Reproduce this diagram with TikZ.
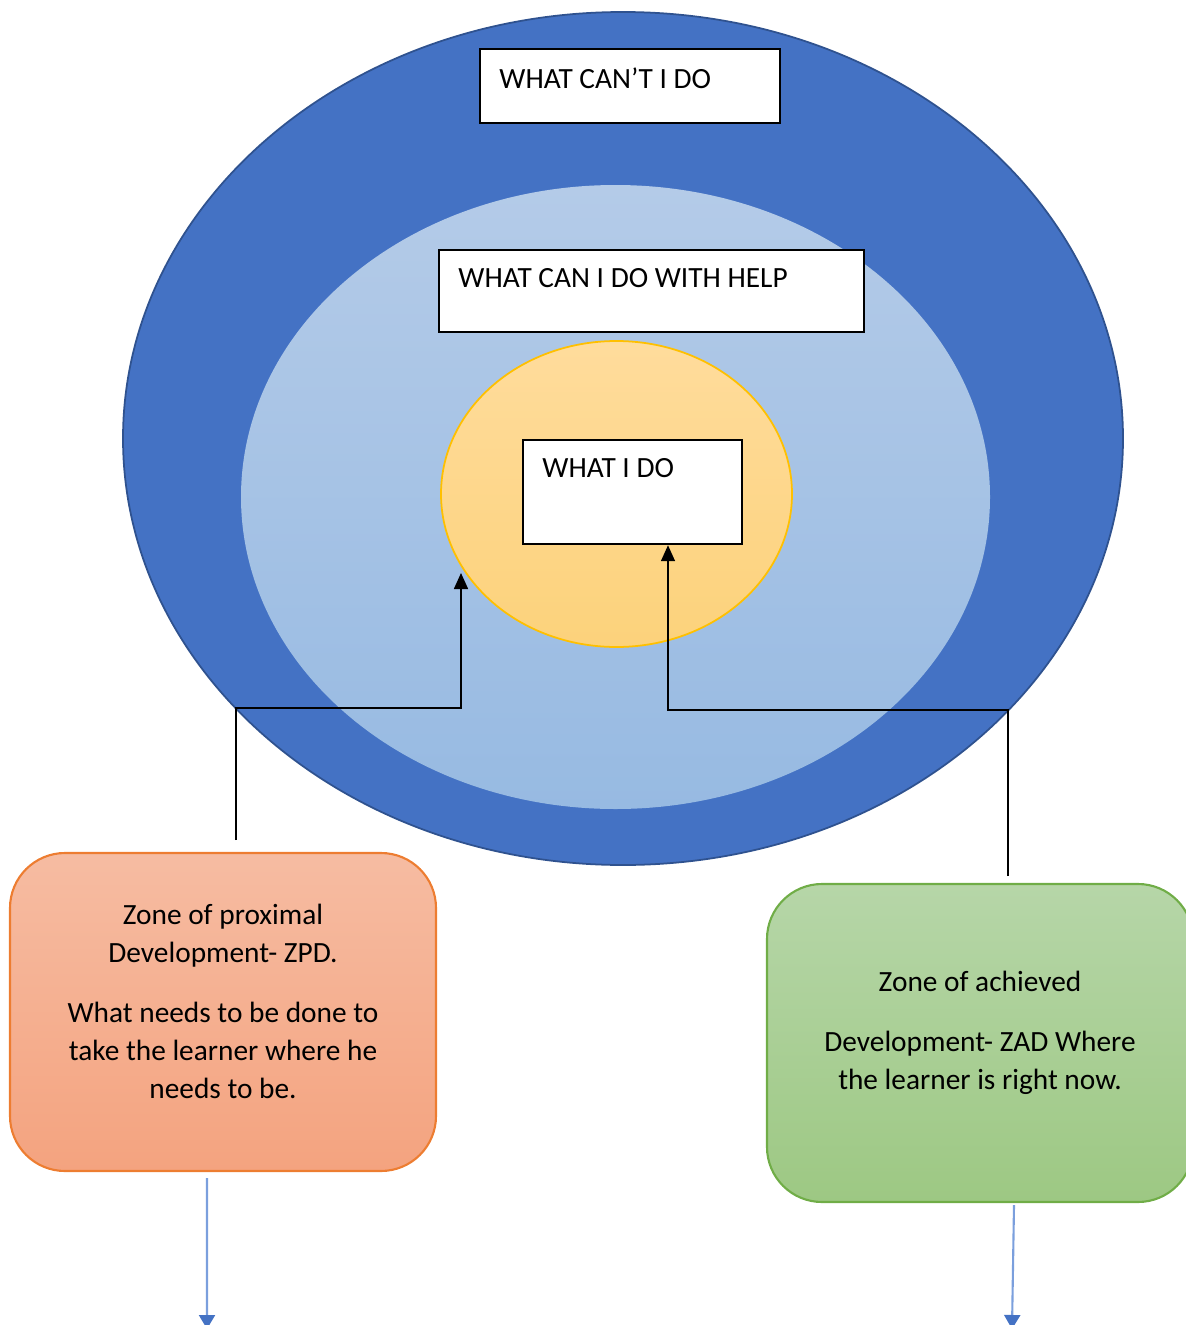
\documentclass[tikz,border=0pt]{standalone}
\usepackage{fontspec}
\setmainfont{Carlito}
\usetikzlibrary{positioning, shapes.geometric, arrows.meta}
\usetikzlibrary{calc}
\definecolor{outerblue}{HTML}{4472C4}
\definecolor{outeredge}{HTML}{2F528F}
\definecolor{lineblue}{HTML}{7B9FDD}
\tikzstyle{zone} = [ellipse, inner sep=0pt]
\tikzstyle{question} = [rectangle, draw=black, line width=0.7pt, fill=white]
\tikzstyle{qtext} = [anchor=north west, inner xsep=0.2cm, inner ysep=0.19cm]
\tikzstyle{note} = [rectangle, rounded corners=0.55cm, line width=0.6pt, minimum width=4.26cm, minimum height=3.18cm, inner xsep=0.1cm, text width=3.95cm, align=center, execute at begin node={\spaceskip=\fontdimen2\font\xspaceskip=\fontdimen2\font\relax}]
\tikzstyle{arrow} = [line width=0.45pt, -{Triangle[width=0.14cm,length=0.16cm]}]
\tikzstyle{down} = [line width=0.6pt, draw=lineblue, -{Triangle[width=0.16cm,length=0.14cm,color=outerblue]}]
\tikzstyle{every node}=[font=\fontsize{8.35}{10.8}\selectfont]

\begin{document}
\begin{tikzpicture}
		\useasboundingbox (0,0) rectangle (11.85,-13.25);
		%三个区域
		\node (cant zone) [zone, minimum width=10cm, minimum height=8.53cm, fill=outerblue, draw=outeredge, line width=0.5pt] at (6.23,-4.385) {};
		\node (help zone) [zone, minimum width=7.49cm, minimum height=6.24cm, top color={rgb,255:red,180;green,203;blue,232}, bottom color={rgb,255:red,151;green,186;blue,226}] at (6.155,-4.97) {};
		\node (do zone) [zone, minimum width=3.51cm, minimum height=3.06cm, top color={rgb,255:red,255;green,220;blue,156}, bottom color={rgb,255:red,252;green,210;blue,123}, draw={rgb,255:red,255;green,192;blue,0}, line width=0.5pt] at (6.165,-4.94) {};
		
		%问题框
		\node (cant) [question, minimum width=3cm, minimum height=0.74cm, label={[qtext]north west:WHAT CAN’T I DO}] at (6.30,-0.86) {};
		\node (help) [question, minimum width=4.25cm, minimum height=0.82cm, label={[qtext]north west:WHAT CAN I DO WITH HELP}] at (6.515,-2.91) {};
		\node (do) [question, minimum width=2.19cm, minimum height=1.04cm, label={[qtext]north west:WHAT I DO}] at (6.325,-4.92) {};
		
		%说明框
		\node (zpd) [note, top color={rgb,255:red,246;green,188;blue,162}, bottom color={rgb,255:red,244;green,163;blue,127}, draw={rgb,255:red,237;green,125;blue,49}] at (2.23,-10.12) {Zone of proximal\\Development- ZPD.\\[0.22cm]What needs to be done to\\take the learner where he\\needs to be.\\[-0.17cm]\mbox{}};
		\node (zad) [note, top color={rgb,255:red,182;green,214;blue,168}, bottom color={rgb,255:red,157;green,200;blue,131}, draw={rgb,255:red,112;green,173;blue,71}] at (9.80,-10.43) {Zone of achieved\\[0.22cm]Development- ZAD Where\\the learner is right now.\\[-0.13cm]\mbox{}};
		
		%连接
		\coordinate (zpd top) at (2.36,-8.40);
		\coordinate (zpd tip) at (4.61,-5.73);
		\coordinate (zad top) at (10.08,-8.76);
		\coordinate (do x) at (6.68,0);
		\coordinate (zpd out) at (2.07,-13.29);
		\coordinate (zad out) at (10.12,-13.29);
		\draw [arrow] (zpd top) -- (2.36,-7.08) -| (zpd tip);
		\draw [arrow] (zad top) -- (10.08,-7.10) -| (do.south -| do x);
		\draw [down] ($(zpd.south)+(-0.16,-0.06)$) -- (zpd out);
		\draw [down] ($(zad.south)+(0.34,-0.02)$) -- (zad out);
	\end{tikzpicture}
\end{document}
